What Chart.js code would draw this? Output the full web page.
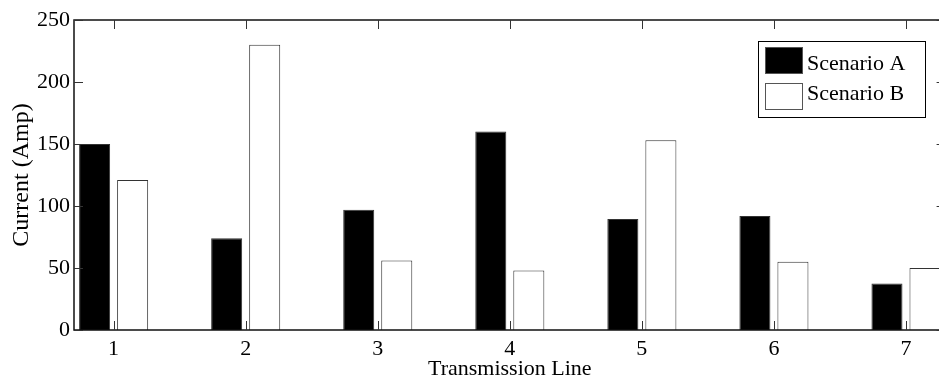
<!DOCTYPE html>
<html><head><meta charset="utf-8">
<script src="https://cdn.jsdelivr.net/npm/chart.js@4.4.0/dist/chart.umd.min.js"></script>
<style>
html,body{margin:0;padding:0;background:#fff;overflow:hidden;width:939px;height:385px}
#wrap{width:960px;height:385px;position:relative}
canvas{display:block}
</style>
</head><body>
<div id="wrap"><canvas id="c" width="960" height="385"></canvas></div>
<script>
const lines = [1, 2, 3, 4, 5, 6, 7];
const scenarioA = [150, 74, 97, 160, 89.5, 92, 37.5];
const scenarioB = [121, 230, 56, 48, 153, 55, 50];
const yTicks = [0, 50, 100, 150, 200, 250];
const seriesNames = ['Scenario A', 'Scenario B'];
const xTitle = 'Transmission Line';
const yTitle = 'Current (Amp)';

const FONT = "'Liberation Serif','Times New Roman',serif";
Chart.defaults.font.family = FONT;
Chart.defaults.font.size = 22;
Chart.defaults.color = '#000';

const frame = {
  id: 'frame',
  afterDraw(chart) {
    const {ctx, chartArea: a, scales: {x, y}} = chart;
    ctx.save();
    ctx.strokeStyle = '#111';
    ctx.lineWidth = 1.5;
    ctx.beginPath();
    ctx.rect(a.left, a.top, a.right - a.left, a.bottom - a.top);
    ctx.stroke();
    ctx.lineWidth = 1;
    ctx.strokeStyle = '#333';
    const L = 9;
    ctx.beginPath();
    x.ticks.forEach(t => {
      const px = Math.round(x.getPixelForValue(t.value)) + 0.5;
      ctx.moveTo(px, a.bottom); ctx.lineTo(px, a.bottom - L);
      ctx.moveTo(px, a.top); ctx.lineTo(px, a.top + L);
    });
    y.ticks.forEach(t => {
      const py = Math.round(y.getPixelForValue(t.value)) + 0.5;
      ctx.moveTo(a.left, py); ctx.lineTo(a.left + L, py);
      ctx.moveTo(a.right, py); ctx.lineTo(a.right - L, py);
    });
    ctx.stroke();

    // legend
    const bx = 758, by = 41, bw = 167, bh = 76;
    ctx.fillStyle = '#fff';
    ctx.fillRect(bx, by, bw, bh);
    ctx.strokeStyle = '#000';
    ctx.lineWidth = 1;
    ctx.strokeRect(bx + 0.5, by + 0.5, bw, bh);
    const ds = chart.data.datasets;
    const rows = [{sy: 47, ty: 69.5}, {sy: 83, ty: 100}];
    ds.forEach((d, i) => {
      ctx.fillStyle = d.backgroundColor;
      ctx.fillRect(765, rows[i].sy, 38, 27);
      ctx.strokeStyle = '#555';
      ctx.strokeRect(765.5, rows[i].sy + 0.5, 37, 26);
      ctx.fillStyle = '#000';
      ctx.font = '22px ' + FONT;
      ctx.textBaseline = 'alphabetic';
      ctx.textAlign = 'left';
      ctx.fillText(d.label, 807, rows[i].ty);
    });
    ctx.restore();
  }
};

new Chart(document.getElementById('c'), {
  type: 'bar',
  data: {
    datasets: [
      {label: seriesNames[0], data: lines.map((l, i) => ({x: l, y: scenarioA[i]})),
       backgroundColor: '#000', borderColor: '#333', borderWidth: 1},
      {label: seriesNames[1], data: lines.map((l, i) => ({x: l, y: scenarioB[i]})),
       backgroundColor: '#fff', borderColor: '#333', borderWidth: 1}
    ]
  },
  options: {
    responsive: false,
    animation: false,
    devicePixelRatio: 1,
    categoryPercentage: 0.576,
    barPercentage: 0.816,
    layout: {padding: {left: 0, top: 20, right: 14.4, bottom: 0}},
    plugins: {legend: {display: false}, tooltip: {enabled: false}},
    scales: {
      x: {
        type: 'linear', min: 0.7, max: 7.3, offset: false,
        afterBuildTicks: s => { s.ticks = lines.map(v => ({value: v})); },
        afterFit: s => { s.height = 55; },
        grid: {display: false, drawTicks: false, offset: false},
        border: {display: false},
        ticks: {autoSkip: false, maxRotation: 0, padding: 6, callback: v => String(v)},
        title: {display: true, text: xTitle, padding: {top: 0, bottom: 3}}
      },
      y: {
        type: 'linear', min: 0, max: 250,
        afterBuildTicks: s => { s.ticks = yTicks.map(v => ({value: v})); },
        afterFit: s => { s.width = 74; },
        grid: {display: false, drawTicks: false},
        border: {display: false},
        ticks: {padding: 4, callback: v => String(v)},
        title: {display: true, text: yTitle, font: {size: 24}, padding: {top: 7, bottom: 0}}
      }
    }
  },
  plugins: [frame]
});
</script>
</body></html>
